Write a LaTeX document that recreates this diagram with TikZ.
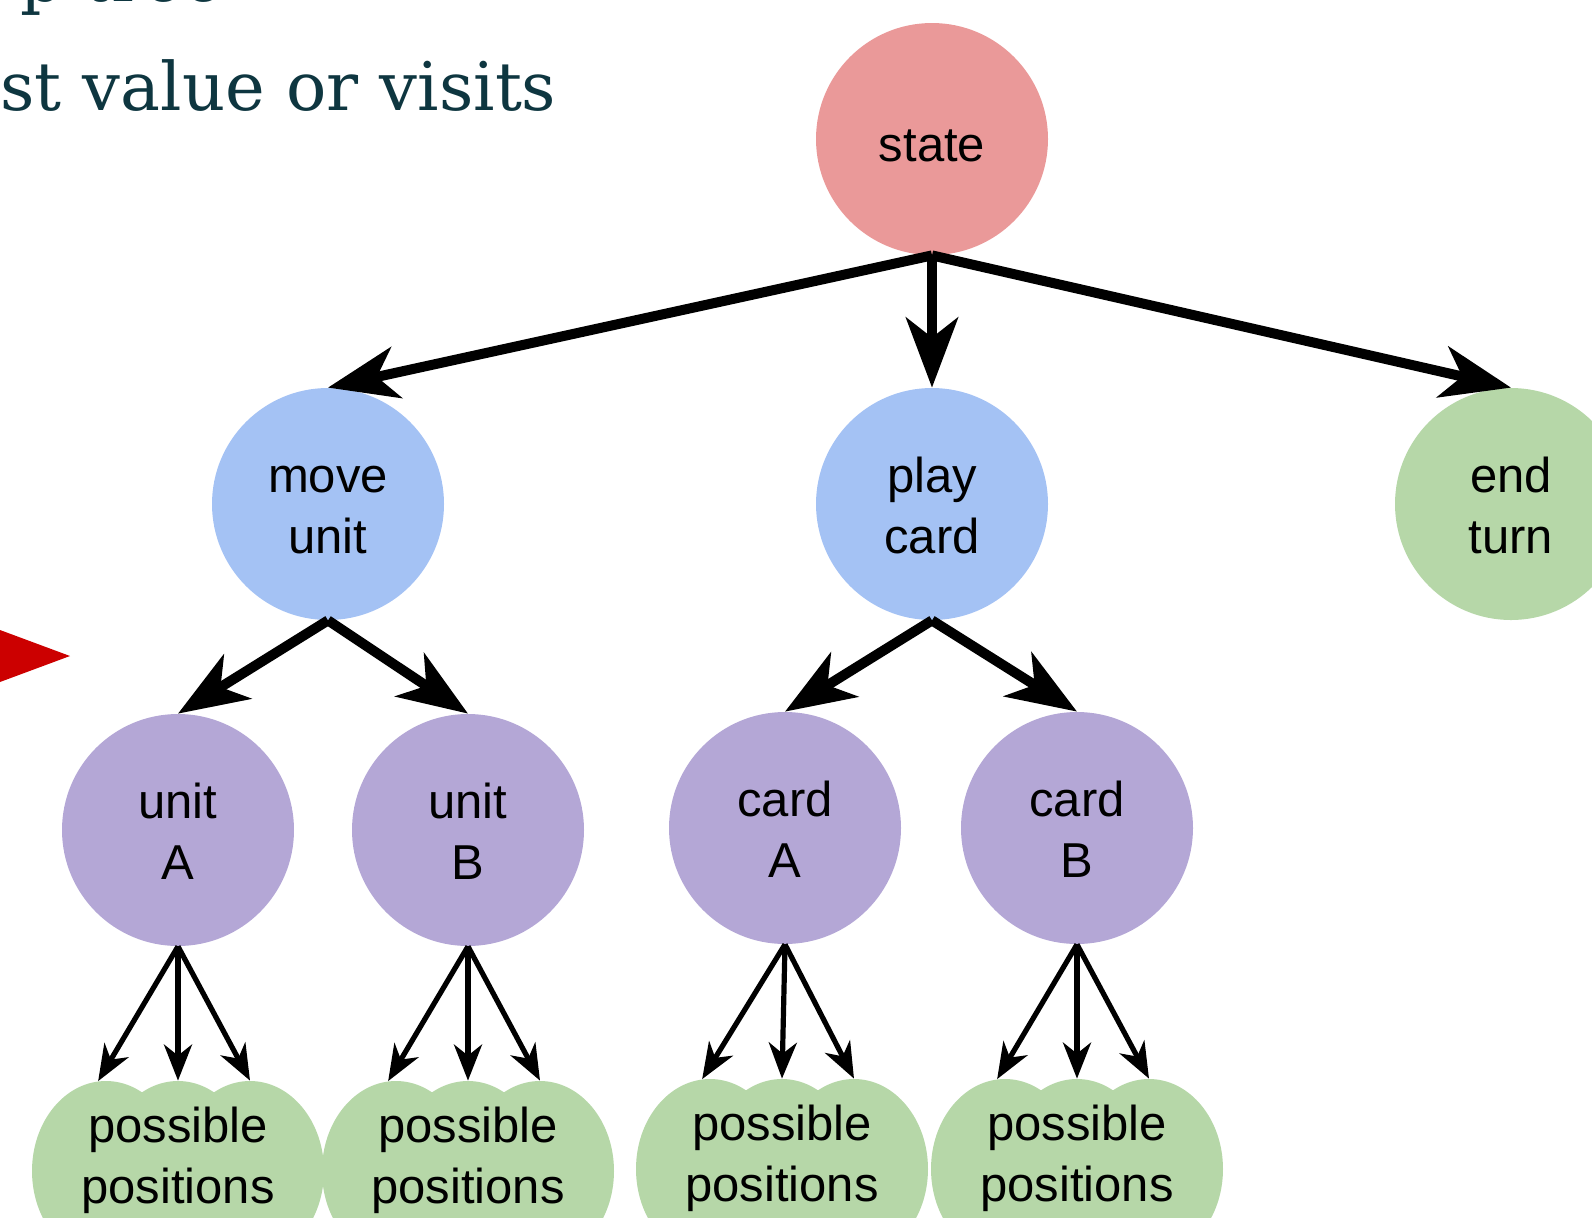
\documentclass[tikz,border=0pt]{standalone}
\usepackage{fontspec}
\setmainfont{Liberation Sans}
\newfontfamily\slidefont{DejaVu Serif}
\usetikzlibrary{arrows.meta,shapes.geometric}
\definecolor{cred}{HTML}{EA9999}
\definecolor{cblue}{HTML}{A4C2F4}
\definecolor{cpurple}{HTML}{B4A7D6}
\definecolor{cgreen}{HTML}{B6D7A8}
\definecolor{ctitle}{HTML}{0E3640}
\definecolor{cmark}{HTML}{CC0000}
\newcommand\myTop{\rule{0pt}{28.5pt}}
\newcommand\myBot{\rule[-9.5pt]{0pt}{9.5pt}}
\newcommand\myOne{\rule[-9.5pt]{0pt}{41.5pt}}
\begin{document}
\begin{tikzpicture}[x=0.5pt,y=-0.5pt,
  bubble/.style={circle, minimum size=116pt, inner sep=0pt, align=center,
    font=\fontsize{24.5pt}{30.5pt}\selectfont},
  bump/.style={ellipse, minimum width=74pt, minimum height=90pt, inner sep=0pt, fill=cgreen},
  cloudtext/.style={align=center, inner sep=0pt, font=\fontsize{24.5pt}{30.5pt}\selectfont},
  bigarrow/.style={line width=5pt, -{Stealth[length=35pt,width=26pt,inset=10pt]}},
  smallarrow/.style={line width=2.6pt, -{Stealth[length=18pt,width=14pt,inset=5.5pt]}},
  slidetext/.style={anchor=base west, inner sep=0pt, text=ctitle,
    font=\slidefont\fontsize{33.5pt}{40pt}\selectfont},
]
\useasboundingbox (0,0) rectangle (1592,1217);

% slide text (partly cut off)
\node[slidetext] (title1) at (20,1) {p tree};
\node[slidetext] (title2) at (0,110) {st value or visits};
\fill[cmark] (0,630) -- (70,656) -- (0,682) -- cycle;

% tree nodes
\node[bubble, fill=cred] (state) at (932,139) {\myOne state};
\node[bubble, fill=cblue] (move) at (328,504) {\myTop move\\unit\myBot};
\node[bubble, fill=cblue] (play) at (932,504) {\myTop play\\card\myBot};
\node[bubble, fill=cgreen] (endt) at (1511,504) {\myTop end\\turn\myBot};
\node[bubble, fill=cpurple] (ua) at (178,830) {\myTop unit\\A\myBot};
\node[bubble, fill=cpurple] (ub) at (468,830) {\myTop unit\\B\myBot};
\node[bubble, fill=cpurple] (ca) at (785,828) {\myTop card\\A\myBot};
\node[bubble, fill=cpurple] (cb) at (1077,828) {\myTop card\\B\myBot};

% clouds of possible positions
\node[bump] (p1a) at (106,1171) {};
\node[bump] (p1c) at (250,1171) {};
\node[bump] (p1b) at (178,1171) {};
\node[cloudtext] (p1) at (178,1160) {possible\\positions};

\node[bump] (p2a) at (396,1171) {};
\node[bump] (p2c) at (540,1171) {};
\node[bump] (p2b) at (468,1171) {};
\node[cloudtext] (p2) at (468,1160) {possible\\positions};

\node[bump] (p3a) at (710,1169) {};
\node[bump] (p3c) at (854,1169) {};
\node[bump] (p3b) at (782,1169) {};
\node[cloudtext] (p3) at (782,1158) {possible\\positions};

\node[bump] (p4a) at (1005,1169) {};
\node[bump] (p4c) at (1149,1169) {};
\node[bump] (p4b) at (1077,1169) {};
\node[cloudtext] (p4) at (1077,1158) {possible\\positions};

% connectors
\draw[bigarrow] (state.south) -- (move.north);
\draw[bigarrow] (state.south) -- (play.north);
\draw[bigarrow] (state.south) -- (endt.north);
\draw[bigarrow] (move.south) -- (ua.north);
\draw[bigarrow] (move.south) -- (ub.north);
\draw[bigarrow] (play.south) -- (ca.north);
\draw[bigarrow] (play.south) -- (cb.north);

\foreach \pa/\kid in {ua/p1, ub/p2, ca/p3, cb/p4}{
  \draw[smallarrow] (\pa.south) -- (\kid a.95);
  \draw[smallarrow] (\pa.south) -- (\kid b.north);
  \draw[smallarrow] (\pa.south) -- (\kid c.north);
}
\end{tikzpicture}
\end{document}
